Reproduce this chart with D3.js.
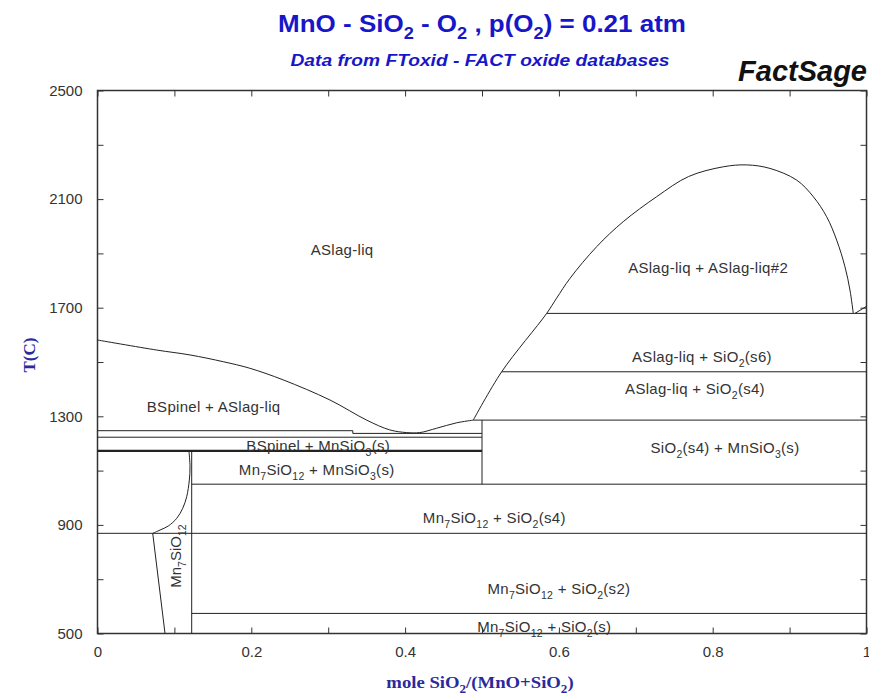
<!DOCTYPE html>
<html>
<head>
<meta charset="utf-8">
<script src="https://cdn.jsdelivr.net/npm/d3@7"></script>
<style>
  body { margin: 0; background: #fff; }
  svg { display: block; }
</style>
</head>
<body>
<svg id="chart"></svg>
<script>
// axis ticks
var xTicks = [0, 0.1, 0.2, 0.3, 0.4, 0.5, 0.6, 0.7, 0.8, 0.9, 1];
var xLabelled = [0, 0.2, 0.4, 0.6, 0.8, 1];
var yTicks = [500, 700, 900, 1100, 1300, 1500, 1700, 1900, 2100, 2300, 2500];
var yLabelled = [500, 900, 1300, 1700, 2100, 2500];

// phase boundaries, [mole fraction SiO2, T(C)]
var liquidusLeft = [[0, 1581], [0.077, 1544], [0.1203, 1526], [0.1636, 1501], [0.198, 1477],
  [0.2416, 1434], [0.3023, 1360], [0.35, 1286], [0.38, 1250], [0.402, 1240], [0.419, 1240],
  [0.441, 1256], [0.467, 1276], [0.4887, 1286]];
var liquidusRight = [[0.4887, 1286], [0.5256, 1464], [0.5841, 1679], [0.597, 1735], [0.6144, 1808],
  [0.6492, 1925], [0.6837, 2017], [0.7272, 2109], [0.7685, 2183], [0.8138, 2219], [0.8442, 2226],
  [0.8745, 2213], [0.9092, 2170], [0.9308, 2109], [0.9482, 2035], [0.9612, 1949], [0.972, 1851],
  [0.9785, 1765], [0.9828, 1679]];
var silicaLiquidus = [[0.985, 1679], [1, 1705]];
var mn7Solvus = [[0.119, 1170], [0.1203, 1114], [0.1194, 1065], [0.116, 1004], [0.1108, 961],
  [0.103, 924], [0.0921, 896], [0.0813, 881], [0.0718, 869]];
var mn7Lower = [[0.0718, 869], [0.0878, 500]];

// [T, x from, x to]
var tieLines = [[1679, 0.5841, 1], [1464, 0.5256, 1], [1286, 0.4887, 1], [1247, 0, 0.332],
  [1237, 0.332, 0.5], [1223, 0, 0.5], [1050, 0.1225, 1], [869, 0, 1], [574, 0.1225, 1]];
var thickTieLines = [[1173, 0, 0.5]];
// [x, T from, T to]
var verticals = [[0.332, 1237, 1247], [0.5, 1050, 1286], [0.1225, 500, 1173]];

var labelTexts = ["ASlag-liq", "ASlag-liq + ASlag-liq#2", "ASlag-liq + SiO_2(s6)", "ASlag-liq + SiO_2(s4)",
  "BSpinel + ASlag-liq", "BSpinel + MnSiO_3(s)", "Mn_7SiO_12 + MnSiO_3(s)", "SiO_2(s4) + MnSiO_3(s)",
  "Mn_7SiO_12 + SiO_2(s4)", "Mn_7SiO_12 + SiO_2(s2)", "Mn_7SiO_12 + SiO_2(s)"];
var labelAt = [[0.318, 1913], [0.794, 1846], [0.786, 1518], [0.777, 1400], [0.151, 1334], [0.287, 1191],
  [0.285, 1102], [0.816, 1183], [0.516, 925], [0.600, 664], [0.581, 524]];
var sideLabel = "Mn_7SiO_12";
var sideLabelAt = [0.106, 785];

var width = 869, height = 695;
var sans = "'Liberation Sans', Arial, sans-serif";
var serif = "'Liberation Serif', 'Times New Roman', serif";

var svg = d3.select("#chart").attr("width", width).attr("height", height);

var x = d3.scaleLinear().domain([0, 1]).range([97.5, 866.5]);
var y = d3.scaleLinear().domain([500, 2500]).range([633.5, 90.5]);

// writes text with _digits turned into subscripts
function richText(sel, str, size) {
  var parts = str.split(/_(\d+)/);
  var shift = size * 0.3, down = false;
  parts.forEach(function(p, i) {
    if (p === "") return;
    var t = sel.append("tspan").text(p);
    if (i % 2 === 1) {
      t.attr("font-size", size * 0.7);
      if (!down) { t.attr("dy", shift); down = true; }
    } else if (down) {
      t.attr("dy", -shift); down = false;
    }
  });
  return sel;
}

// titles
var title = svg.append("text")
  .attr("transform", "translate(482,32) scale(1.13,1)")
  .attr("text-anchor", "middle")
  .style("font-family", sans).style("font-size", "23px").style("font-weight", "bold")
  .attr("fill", "#1717c8");
richText(title, "MnO - SiO_2 - O_2 , p(O_2) = 0.21 atm", 23);

svg.append("text")
  .attr("transform", "translate(480,66) scale(1.13,1)")
  .attr("text-anchor", "middle")
  .style("font-family", sans).style("font-size", "17px").style("font-weight", "bold").style("font-style", "italic")
  .attr("fill", "#1717c8")
  .text("Data from FToxid - FACT oxide databases");

svg.append("text")
  .attr("x", 867).attr("y", 81)
  .attr("text-anchor", "end")
  .style("font-family", sans).style("font-size", "29px").style("font-weight", "bold").style("font-style", "italic")
  .attr("fill", "#111")
  .text("FactSage");

// axes, ticks on all four sides pointing inward
function fmtX(d) { return xLabelled.indexOf(d) >= 0 ? d3.format("~g")(d) : ""; }
function fmtY(d) { return yLabelled.indexOf(d) >= 0 ? d : ""; }

var axes = svg.append("g").attr("class", "axes");
axes.append("g").attr("transform", "translate(0," + y(500) + ")")
  .call(d3.axisBottom(x).tickValues(xTicks).tickFormat(fmtX).tickSizeInner(-6).tickSizeOuter(0).tickPadding(13));
axes.append("g").attr("transform", "translate(0," + y(2500) + ")")
  .call(d3.axisTop(x).tickValues(xTicks).tickFormat("").tickSizeInner(-6).tickSizeOuter(0));
axes.append("g").attr("transform", "translate(" + x(0) + ",0)")
  .call(d3.axisLeft(y).tickValues(yTicks).tickFormat(fmtY).tickSizeInner(-6).tickSizeOuter(0).tickPadding(15));
axes.append("g").attr("transform", "translate(" + x(1) + ",0)")
  .call(d3.axisRight(y).tickValues(yTicks).tickFormat("").tickSizeInner(-6).tickSizeOuter(0));
axes.selectAll(".domain").remove();
axes.selectAll(".tick line").attr("stroke", "#333");
axes.selectAll(".tick text")
  .style("font-family", sans).style("font-size", "15px").attr("fill", "#333");

svg.append("rect")
  .attr("x", x(0)).attr("y", y(2500))
  .attr("width", x(1) - x(0)).attr("height", y(500) - y(2500))
  .attr("fill", "none").attr("stroke", "#333").attr("stroke-width", 1.5);

// phase boundaries
var line = d3.line()
  .x(function(d) { return x(d[0]); })
  .y(function(d) { return y(d[1]); });
var smooth = d3.line()
  .x(function(d) { return x(d[0]); })
  .y(function(d) { return y(d[1]); })
  .curve(d3.curveCatmullRom.alpha(0.5));

var bounds = svg.append("g").attr("fill", "none").attr("stroke", "#222").attr("stroke-width", 1);
[liquidusLeft, liquidusRight, mn7Solvus].forEach(function(c) {
  bounds.append("path").attr("d", smooth(c));
});
[silicaLiquidus, mn7Lower].forEach(function(c) {
  bounds.append("path").attr("d", line(c));
});

bounds.selectAll("line.tie")
  .data(tieLines)
  .enter()
  .append("line")
  .attr("class", "tie")
  .attr("x1", function(d) { return x(d[1]); })
  .attr("x2", function(d) { return x(d[2]); })
  .attr("y1", function(d) { return y(d[0]); })
  .attr("y2", function(d) { return y(d[0]); });

bounds.selectAll("line.thick")
  .data(thickTieLines)
  .enter()
  .append("line")
  .attr("class", "thick")
  .attr("stroke-width", 2.2)
  .attr("x1", function(d) { return x(d[1]); })
  .attr("x2", function(d) { return x(d[2]); })
  .attr("y1", function(d) { return y(d[0]); })
  .attr("y2", function(d) { return y(d[0]); });

bounds.selectAll("line.vert")
  .data(verticals)
  .enter()
  .append("line")
  .attr("class", "vert")
  .attr("x1", function(d) { return x(d[0]); })
  .attr("x2", function(d) { return x(d[0]); })
  .attr("y1", function(d) { return y(d[1]); })
  .attr("y2", function(d) { return y(d[2]); });

// region labels
labelTexts.forEach(function(s, i) {
  var t = svg.append("text")
    .attr("x", x(labelAt[i][0])).attr("y", y(labelAt[i][1]))
    .attr("dy", "0.35em")
    .attr("text-anchor", "middle")
    .style("font-family", sans).style("font-size", "15px").style("letter-spacing", "0.3px")
    .attr("fill", "#333");
  richText(t, s, 15);
});

var side = svg.append("text")
  .attr("transform", "translate(" + (x(sideLabelAt[0]) + 2) + "," + y(sideLabelAt[1]) + ") rotate(-90)")
  .attr("text-anchor", "middle")
  .style("font-family", sans).style("font-size", "15px")
  .attr("fill", "#333");
richText(side, sideLabel, 15);

// axis titles
svg.append("text")
  .attr("transform", "translate(35,355) rotate(-90)")
  .attr("text-anchor", "middle")
  .style("font-family", serif).style("font-size", "17px").style("font-weight", "bold")
  .attr("fill", "#2a2a9a")
  .text("T(C)");

var xt = svg.append("text")
  .attr("transform", "translate(480,688) scale(1.1,1)")
  .attr("text-anchor", "middle")
  .style("font-family", serif).style("font-size", "17px").style("font-weight", "bold")
  .attr("fill", "#2a2a9a");
richText(xt, "mole SiO_2/(MnO+SiO_2)", 17);
</script>
</body>
</html>
